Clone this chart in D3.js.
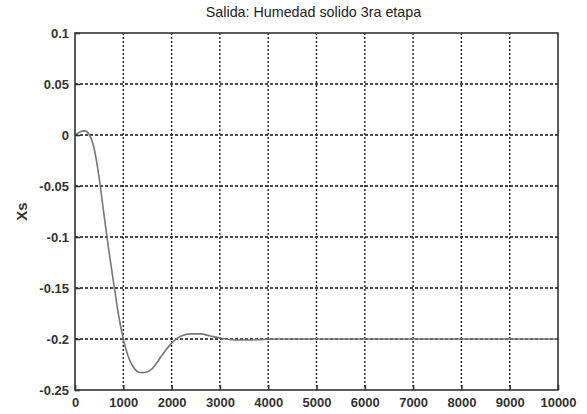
<!DOCTYPE html>
<html>
<head>
<meta charset="utf-8">
<script src="https://cdnjs.cloudflare.com/ajax/libs/d3/7.8.5/d3.min.js"></script>
<style>
  body { margin: 0; background: #fff; }
  text { font-family: "Liberation Sans", Arial, sans-serif; fill: #222; }
</style>
</head>
<body>
<div id="chart"></div>
<script>
// step response
var times = [0, 100, 200, 300, 400, 500, 600, 700, 800, 900, 1000, 1100, 1200, 1300, 1400,
             1500, 1600, 1800, 2000, 2200, 2400, 2600, 2800, 3000, 3200, 3400, 3600, 3800,
             4000, 4200, 5000, 6000, 7000, 8000, 9000, 10000];
var xsValues = [0, 0.003, 0.004, 0.0, -0.014, -0.042, -0.078, -0.113, -0.145, -0.176, -0.2,
                -0.217, -0.227, -0.232, -0.233, -0.232, -0.229, -0.216, -0.204, -0.197,
                -0.195, -0.195, -0.197, -0.199, -0.2005, -0.201, -0.201, -0.2007, -0.2003,
                -0.2, -0.2, -0.2, -0.2, -0.2, -0.2, -0.2];
var xTicks = [0, 1000, 2000, 3000, 4000, 5000, 6000, 7000, 8000, 9000, 10000];
var yTicks = [0.1, 0.05, 0, -0.05, -0.1, -0.15, -0.2, -0.25];

var margin = {top: 33, right: 29, bottom: 24, left: 75};
var W = 587, H = 414;
var width = W - margin.left - margin.right;
var height = H - margin.top - margin.bottom;

var svg = d3.select("#chart").append("svg")
    .attr("width", W).attr("height", H);
var g = svg.append("g")
    .attr("transform", "translate(" + margin.left + "," + margin.top + ")");

var x = d3.scaleLinear().domain([0, 10000]).range([0, width]);
var y = d3.scaleLinear().domain([-0.25, 0.1]).range([height, 0]);

// grid
g.append("g").selectAll("line").data(xTicks.slice(1, -1)).enter().append("line")
    .attr("x1", d => x(d)).attr("x2", d => x(d))
    .attr("y1", 0).attr("y2", height)
    .style("stroke", "#111").style("stroke-width", 1.3).style("stroke-dasharray", "2,2");
g.append("g").selectAll("line").data(yTicks.slice(1, -1)).enter().append("line")
    .attr("y1", d => y(d)).attr("y2", d => y(d))
    .attr("x1", 0).attr("x2", width)
    .style("stroke", "#111").style("stroke-width", 1.3).style("stroke-dasharray", "3,2");

// curve
var line = d3.line()
    .x((d, i) => x(times[i]))
    .y(d => y(d))
    .curve(d3.curveMonotoneX);
g.append("path").datum(xsValues)
    .attr("d", line)
    .style("fill", "none").style("stroke", "#777").style("stroke-width", 1.6);

// axes box
g.append("rect").attr("width", width).attr("height", height)
    .style("fill", "none").style("stroke", "#333").style("stroke-width", 1.6);

var fmt = d => String(+d.toFixed(2));
var xAxis = g.append("g").attr("transform", "translate(0," + height + ")")
    .call(d3.axisBottom(x).tickValues(xTicks).tickSizeInner(-5).tickSizeOuter(0).tickPadding(8)
        .tickFormat(fmt));
var yAxis = g.append("g")
    .call(d3.axisLeft(y).tickValues(yTicks).tickSizeInner(-5).tickSizeOuter(0).tickPadding(6)
        .tickFormat(fmt));
[xAxis, yAxis].forEach(function (a) {
  a.select(".domain").remove();
  a.selectAll("line").style("stroke", "#333").style("stroke-width", 1.6);
  a.selectAll("text").style("font-size", "13px").style("font-weight", "bold")
    .style("fill", "#333").style("font-family", "Liberation Sans, Arial, sans-serif");
});

svg.append("text")
    .attr("x", margin.left + width / 2 - 3).attr("y", 17)
    .style("text-anchor", "middle").style("font-size", "14.3px")
    .text("Salida: Humedad solido 3ra etapa");

svg.append("text")
    .attr("transform", "rotate(-90)")
    .attr("x", -(margin.top + height / 2)).attr("y", 27)
    .style("text-anchor", "middle").style("font-size", "15px").style("font-weight", "bold")
    .style("fill", "#333")
    .text("Xs");
</script>
</body>
</html>
